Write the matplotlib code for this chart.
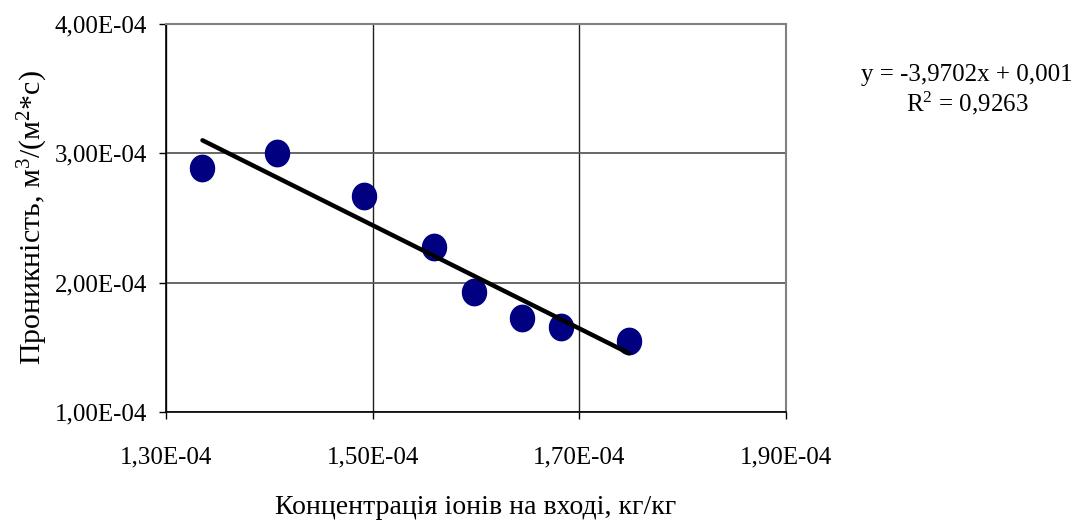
import numpy as np
import matplotlib
matplotlib.use("Agg")
import matplotlib.pyplot as plt
from matplotlib.ticker import FuncFormatter
from matplotlib.path import Path

plt.rcParams['font.family'] = ['Liberation Serif', 'DejaVu Serif']
plt.rcParams['mathtext.fontset'] = 'custom'
plt.rcParams['mathtext.rm'] = 'Liberation Serif'
plt.rcParams['mathtext.it'] = 'Liberation Serif:italic'

# Data
concentration = [1.335e-4, 1.407e-4, 1.491e-4, 1.559e-4, 1.598e-4, 1.644e-4, 1.682e-4, 1.748e-4]
permeability = [2.885e-4, 3.005e-4, 2.672e-4, 2.273e-4, 1.929e-4, 1.725e-4, 1.653e-4, 1.549e-4]
x_ticks = [1.30e-4, 1.50e-4, 1.70e-4, 1.90e-4]
y_ticks = [1.00e-4, 2.00e-4, 3.00e-4, 4.00e-4]
x_label = "Концентрація іонів на вході, кг/кг"
y_label = "Проникність, м$^\\mathregular{3}$/(м$^\\mathregular{2}$*с)"
eq_text = "y = -3,9702x + 0,001"
r2_text = "R$^\\mathregular{2}$ = 0,9263"

x = np.array(concentration)
y = np.array(permeability)
slope, intercept = np.polyfit(x, y, 1)
xl = np.array([x.min(), x.max()])
yl = slope * xl + intercept

fig = plt.figure(figsize=(10.78, 5.22), dpi=100)
ax = fig.add_axes([0.1543, 0.2113, 0.729 - 0.1543, 0.9534 - 0.2113])

ax.yaxis.grid(True, color='#5a5a5a', linewidth=1.3, zorder=0)
ax.xaxis.grid(True, color='#202020', linewidth=1.0, zorder=0)
ax.set_axisbelow(True)

t = np.linspace(0, 2 * np.pi, 60)
ell = Path(np.column_stack([0.91 * np.cos(t), np.sin(t)]), closed=True)
ax.plot(x, y, linestyle='none', marker=ell, markersize=19, color='#000080',
        markeredgecolor='#000080', zorder=3)
ax.plot(xl, yl, color='black', linewidth=3.2, solid_capstyle='round', zorder=4)

ax.set_xlim(x_ticks[0], x_ticks[-1])
ax.set_ylim(y_ticks[0], y_ticks[-1])
ax.set_xticks(x_ticks)
ax.set_yticks(y_ticks)
fmt = FuncFormatter(lambda v, p: f"{v:.2E}".replace('.', ','))
ax.xaxis.set_major_formatter(fmt)
ax.yaxis.set_major_formatter(fmt)
ax.tick_params(axis='both', direction='out', length=5, width=1, labelsize=18, color='black')
ax.tick_params(axis='x', pad=20)
ax.tick_params(axis='y', pad=9)

for s in ['top', 'right']:
    ax.spines[s].set_color('#808080')
    ax.spines[s].set_linewidth(1.5)
for s in ['left', 'bottom']:
    ax.spines[s].set_color('black')
    ax.spines[s].set_linewidth(1.2)

ax.set_xlabel(x_label, fontsize=20, labelpad=19)
ax.set_ylabel(y_label, fontsize=21.5, labelpad=3)

fig.text(967 / 1078, 1 - 75 / 522, eq_text, fontsize=18, ha='center', va='center')
fig.text(967 / 1078, 1 - 103 / 522, r2_text, fontsize=18, ha='center', va='center')

fig.savefig('out.png', dpi=100)
